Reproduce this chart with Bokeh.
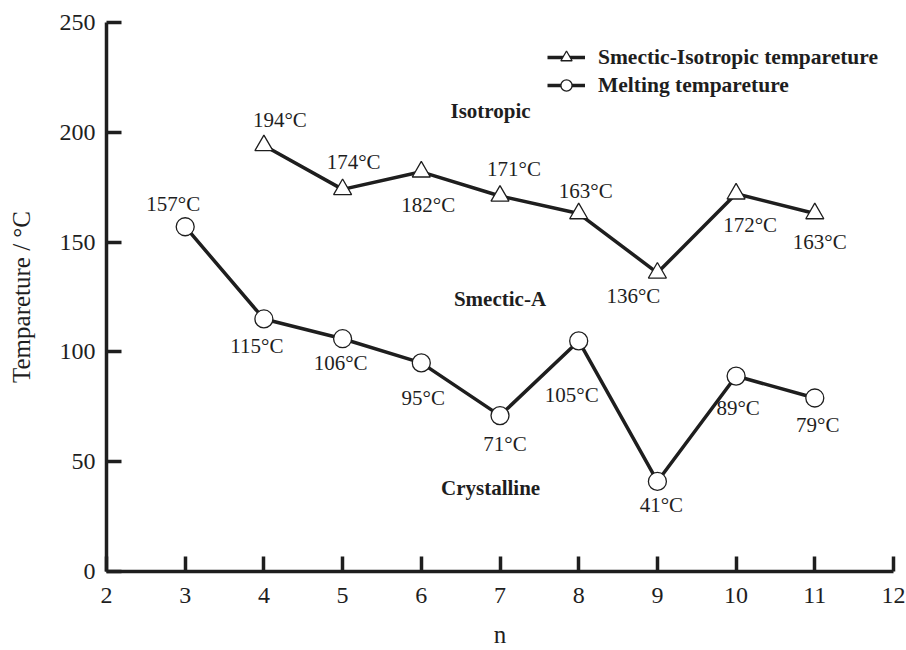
from bokeh.plotting import figure
from bokeh.models import ColumnDataSource, Range1d, FixedTicker, Legend, LegendItem, Label
from bokeh.core.properties import value
from bokeh.embed import file_html
from bokeh.resources import INLINE

# ---- data ----
tri_n = [4, 5, 6, 7, 8, 9, 10, 11]
tri_t = [194, 174, 182, 171, 163, 136, 172, 163]
circ_n = [3, 4, 5, 6, 7, 8, 9, 10, 11]
circ_t = [157, 115, 106, 95, 71, 105, 41, 89, 79]
x_ticks = [2, 3, 4, 5, 6, 7, 8, 9, 10, 11, 12]
y_ticks = [0, 50, 100, 150, 200, 250]
series_names = ["Smectic-Isotropic tempareture", "Melting tempareture"]
regions = ["Isotropic", "Smectic-A", "Crystalline"]
region_x = [6.88, 7.0, 6.88]
region_y = [209.5, 124.3, 37.8]
x_title = "n"
y_title = "Tempareture / °C"

# label offsets (pixels, style only)
tri_dx = [16, 11, 7, 14, 7, -24, 14, 5]
tri_dy = [-25, -27, 33, -27, -23, 23, 31, 28]
circ_dx = [-12, -7, -2, 2, 5, -7, 4, 2, 3]
circ_dy = [-23, 27, 24, 35, 28, 54, 24, 32, 27]

SERIF = "Liberation Serif"
INK = "#1e1e1e"

p = figure(width=906, height=650, output_backend="svg", toolbar_location=None,
           x_range=Range1d(2, 12), y_range=Range1d(0, 250),
           min_border_left=106, min_border_top=22, min_border_right=13, min_border_bottom=79)
p.outline_line_color = None
p.xgrid.visible = False
p.ygrid.visible = False
p.background_fill_color = "white"

for ax in (p.xaxis[0], p.yaxis[0]):
    ax.axis_line_width = 3.5
    ax.axis_line_color = INK
    ax.major_tick_line_width = 3.5
    ax.major_tick_line_color = INK
    ax.major_tick_in = 15
    ax.major_tick_out = 0
    ax.minor_tick_line_color = None
    ax.major_label_text_font = SERIF
    ax.major_label_text_font_size = "24px"
    ax.major_label_text_color = INK
    ax.axis_label_text_font = SERIF
    ax.axis_label_text_font_size = "25px"
    ax.axis_label_text_font_style = "normal"
    ax.axis_label_text_color = INK

p.xaxis.ticker = FixedTicker(ticks=x_ticks)
p.yaxis.ticker = FixedTicker(ticks=y_ticks)
p.xaxis.major_label_standoff = 16
p.yaxis.major_label_standoff = 11
p.xaxis.axis_label = x_title
p.xaxis.axis_label_standoff = 15
p.yaxis.axis_label = y_title
p.yaxis.axis_label_standoff = 22

tri_src = ColumnDataSource(dict(x=tri_n, y=tri_t, lab=[f"{v}°C" for v in tri_t], dx=tri_dx, dy=tri_dy))
circ_src = ColumnDataSource(dict(x=circ_n, y=circ_t, lab=[f"{v}°C" for v in circ_t], dx=circ_dx, dy=circ_dy))

l1 = p.line("x", "y", source=tri_src, line_width=3.5, line_color=INK)
m1 = p.scatter("x", "y", source=tri_src, marker="triangle", size=18,
               fill_color="white", line_color=INK, line_width=1.3)
l2 = p.line("x", "y", source=circ_src, line_width=3.5, line_color=INK)
m2 = p.scatter("x", "y", source=circ_src, marker="circle", size=18,
               fill_color="white", line_color=INK, line_width=1.3)

for src in (tri_src, circ_src):
    p.text("x", "y", text="lab", source=src, x_offset="dx", y_offset="dy",
           text_font=value(SERIF), text_font_size="21px", text_color=INK,
           text_align="center", text_baseline="middle")

for name, rx, ry in zip(regions, region_x, region_y):
    p.add_layout(Label(x=rx, y=ry, text=name, text_font=SERIF, text_font_size="21px",
                       text_font_style="bold", text_color=INK,
                       text_align="center", text_baseline="middle"))

legend = Legend(items=[LegendItem(label=series_names[0], renderers=[l1, m1]),
                       LegendItem(label=series_names[1], renderers=[l2, m2])],
                location=(441, 472), padding=0, margin=0, spacing=0,
                glyph_width=38, glyph_height=28, label_height=28, label_standoff=13,
                label_text_font=SERIF, label_text_font_size="21.5px",
                label_text_font_style="bold", label_text_color=INK,
                background_fill_alpha=0, border_line_alpha=0)
p.add_layout(legend, "center")

open("out.html", "w").write(file_html(p, INLINE))
